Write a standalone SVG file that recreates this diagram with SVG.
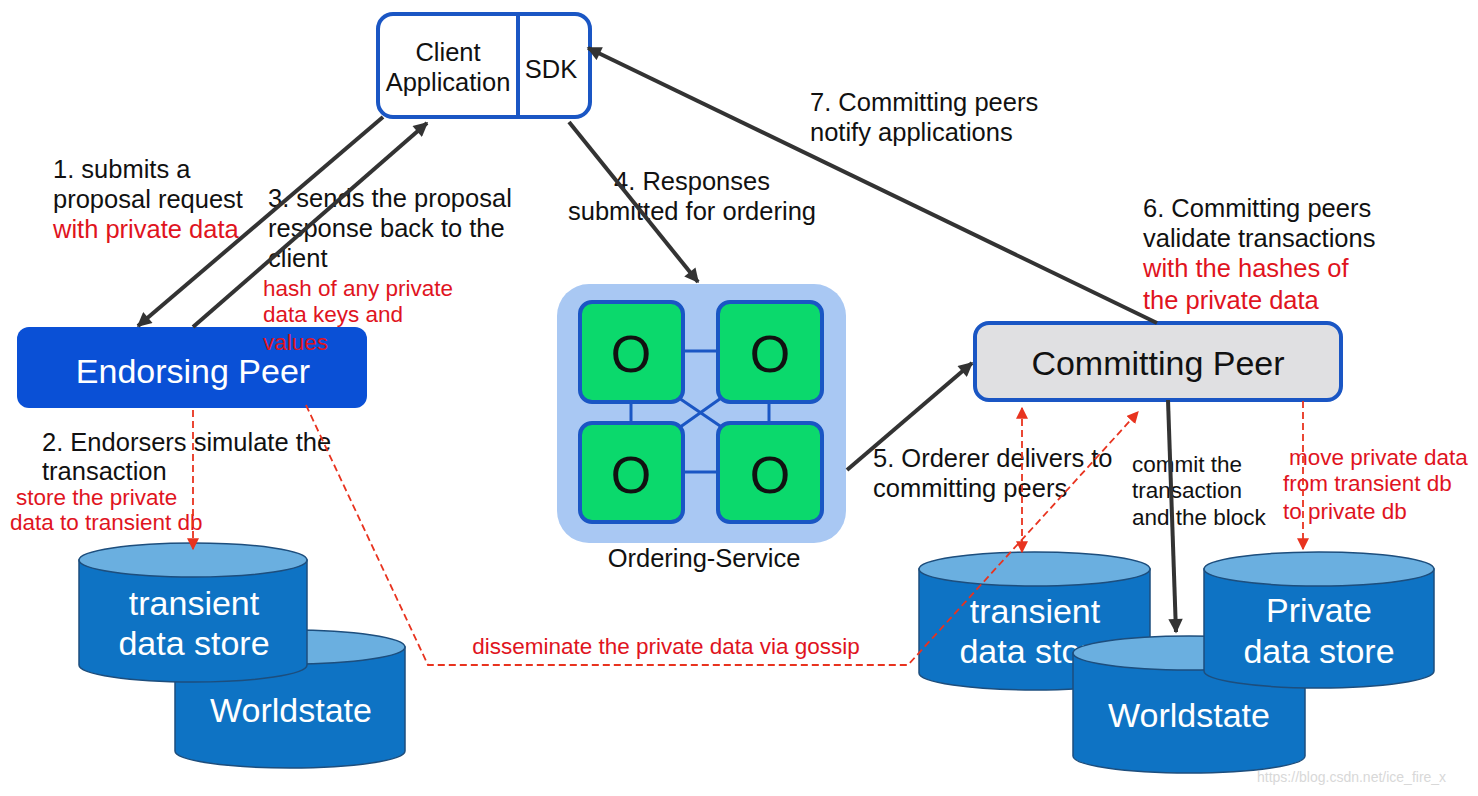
<svg xmlns="http://www.w3.org/2000/svg" width="1478" height="796" viewBox="0 0 1478 796">
<defs>
<style>
.t{font-family:"Liberation Sans",Arial,sans-serif;font-size:25.5px;fill:#111}
.s{font-family:"Liberation Sans",Arial,sans-serif;font-size:22.5px;fill:#111}
.r{fill:#e0141e}
.big{font-family:"Liberation Sans",Arial,sans-serif;font-size:34px}
.w{fill:#fff}
.c{text-anchor:middle}
.arr{stroke:#333;stroke-width:4;fill:none;marker-end:url(#ah)}
.red{stroke:#e8331f;stroke-width:1.8;fill:none;stroke-dasharray:7 4}
.cylb{fill:#0e73c4;stroke:#1d4e7d;stroke-width:1.5}
.cylt{fill:#6aafe0;stroke:#1d4e7d;stroke-width:1.5}
.gb{fill:#0bd96c;stroke:#1a56c4;stroke-width:4}
.ol{stroke:#1a56c4;stroke-width:3}
</style>
<marker id="ah" viewBox="0 0 10 10" refX="9" refY="5" markerWidth="4" markerHeight="3.6" orient="auto" markerUnits="strokeWidth">
<path d="M0,0 L10,5 L0,10 z" fill="#333"/>
</marker>
<marker id="rh" viewBox="0 0 10 10" refX="9" refY="5" markerWidth="12" markerHeight="12" orient="auto-start-reverse" markerUnits="userSpaceOnUse">
<path d="M0,0 L10,5 L0,10 z" fill="#e8331f"/>
</marker>
</defs>
<rect width="1478" height="796" fill="#fff"/>

<g id="client">
<rect x="378" y="14" width="212" height="103" rx="15" fill="#fff" stroke="#1a56c4" stroke-width="4"/>
<line x1="518" y1="14" x2="518" y2="117" stroke="#1a56c4" stroke-width="4"/>
<text class="t c" x="448" y="61">Client</text>
<text class="t c" x="448" y="91">Application</text>
<text class="t c" x="551" y="78">SDK</text>
</g>

<g id="endorsing-peer">
<rect x="17" y="327" width="350" height="81" rx="12" fill="#0a50d6"/>
<text class="big w c" x="193" y="383">Endorsing Peer</text>
</g>

<g id="committing-peer">
<rect x="975" y="323" width="366" height="77" rx="14" fill="#e0e0e2" stroke="#1a56c4" stroke-width="4"/>
<text class="big c" x="1158" y="375" fill="#111">Committing Peer</text>
</g>

<g id="ordering-service">
<rect x="557" y="284" width="289" height="259" rx="32" fill="#a9c8f3"/>
<line class="ol" x1="683" y1="351" x2="718" y2="351"/>
<line class="ol" x1="683" y1="472" x2="718" y2="472"/>
<line class="ol" x1="631" y1="402" x2="631" y2="423"/>
<line class="ol" x1="769" y1="402" x2="769" y2="423"/>
<line class="ol" x1="676" y1="396" x2="726" y2="430"/>
<line class="ol" x1="724" y1="396" x2="676" y2="430"/>
<rect class="gb" x="580" y="302" width="103" height="100" rx="12"/>
<rect class="gb" x="718" y="302" width="104" height="100" rx="12"/>
<rect class="gb" x="580" y="423" width="103" height="99" rx="12"/>
<rect class="gb" x="718" y="423" width="104" height="99" rx="12"/>
<text class="t c" x="631" y="372" style="font-size:52px">O</text>
<text class="t c" x="770" y="372" style="font-size:52px">O</text>
<text class="t c" x="631" y="493" style="font-size:52px">O</text>
<text class="t c" x="770" y="493" style="font-size:52px">O</text>
<text class="t c" x="704" y="567">Ordering-Service</text>
</g>

<g id="worldstate-left">
<path class="cylb" d="M175,647 V751 A115,17 0 0 0 405,751 V647 Z"/>
<ellipse class="cylt" cx="290" cy="647" rx="115" ry="17"/>
<text class="big w c" x="291" y="722">Worldstate</text>
</g>

<g id="transient-left">
<path class="cylb" d="M79,560 V665 A114,17 0 0 0 307,665 V560 Z"/>
<ellipse class="cylt" cx="193" cy="560" rx="114" ry="17"/>
<text class="big w c" x="194" y="615">transient</text>
<text class="big w c" x="194" y="655">data store</text>
</g>

<g id="transient-right">
<path class="cylb" d="M919,569 V673 A115.5,17 0 0 0 1150,673 V569 Z"/>
<ellipse class="cylt" cx="1034.5" cy="569" rx="115.5" ry="17"/>
<text class="big w c" x="1035" y="623">transient</text>
<text class="big w c" x="1035" y="663">data store</text>
</g>

<g id="worldstate-right">
<path class="cylb" d="M1073,653 V756 A116,17 0 0 0 1305,756 V653 Z"/>
<ellipse class="cylt" cx="1189" cy="653" rx="116" ry="17"/>
<text class="big w c" x="1189" y="727">Worldstate</text>
</g>

<g id="private-store">
<path class="cylb" d="M1204,569 V671 A115,17 0 0 0 1434,671 V569 Z"/>
<ellipse class="cylt" cx="1319" cy="569" rx="115" ry="17"/>
<text class="big w c" x="1319" y="622">Private</text>
<text class="big w c" x="1319" y="663">data store</text>
</g>

<g id="labels">
<text class="t" x="53" y="178">1. submits a</text>
<text class="t" x="53" y="208">proposal request</text>
<text class="t r" x="53" y="238">with private data</text>
<text class="t" x="268" y="207">3. sends the proposal</text>
<text class="t" x="268" y="237">response back to the</text>
<text class="t" x="268" y="267">client</text>
<text class="s r" x="263" y="296">hash of any private</text>
<text class="s r" x="263" y="322">data keys and</text>
<text class="s r" x="263" y="350">values</text>
<text class="t c" x="692" y="190">4. Responses</text>
<text class="t c" x="692" y="220">submitted for ordering</text>
<text class="t" x="810" y="111">7. Committing peers</text>
<text class="t" x="810" y="141">notify applications</text>
<text class="t" x="1143" y="217">6. Committing peers</text>
<text class="t" x="1143" y="247">validate transactions</text>
<text class="t r" x="1143" y="277">with the hashes of</text>
<text class="t r" x="1143" y="309">the private data</text>
<text class="t" x="42" y="451">2. Endorsers simulate the</text>
<text class="t" x="42" y="480">transaction</text>
<text class="s r" x="16" y="505">store the private</text>
<text class="s r" x="10" y="530">data to transient db</text>
<text class="t" x="873" y="467">5. Orderer delivers to</text>
<text class="t" x="873" y="497">committing peers</text>
<text class="s" x="1132" y="472">commit the</text>
<text class="s" x="1132" y="498">transaction</text>
<text class="s" x="1132" y="525">and the block</text>
<text class="s r" x="1289" y="465">move private data</text>
<text class="s r" x="1283" y="491">from transient db</text>
<text class="s r" x="1283" y="519">to private db</text>
<text class="s r c" x="666" y="654">disseminate the private data via gossip</text>
<text x="1257" y="782" style="font-family:'Liberation Sans',Arial,sans-serif;font-size:14px;fill:#d8d8d8">https://blog.csdn.net/ice_fire_x</text>
</g>

<g id="connectors">
<line class="arr" x1="383" y1="117" x2="138" y2="326"/>
<line class="arr" x1="193" y1="327" x2="427" y2="123"/>
<line class="arr" x1="569" y1="122" x2="698" y2="282"/>
<line class="arr" x1="1157" y1="323" x2="588" y2="48"/>
<line class="arr" x1="847" y1="470" x2="972" y2="363"/>
<line class="arr" x1="1168" y1="400" x2="1176" y2="632"/>
<line class="red" x1="193" y1="410" x2="193" y2="549" marker-end="url(#rh)"/>
<polyline class="red" points="306,405 428,665 908,665 1138,412" marker-end="url(#rh)"/>
<line class="red" x1="1022" y1="408" x2="1022" y2="552" marker-start="url(#rh)" marker-end="url(#rh)"/>
<line class="red" x1="1303" y1="401" x2="1303" y2="549" marker-end="url(#rh)"/>
</g>
</svg>
